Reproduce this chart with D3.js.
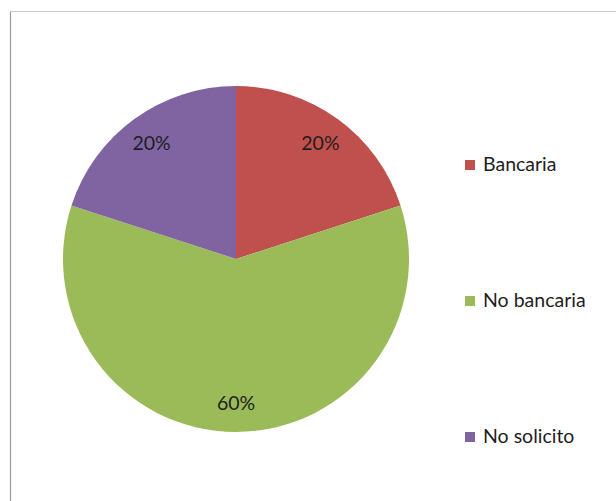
<!DOCTYPE html>
<html>
<head>
<meta charset="utf-8">
<script src="https://cdn.jsdelivr.net/npm/d3@7"></script>
<style>
  html, body { margin: 0; padding: 0; background: #fff; }
  svg { display: block; }
</style>
</head>
<body>
<svg id="chart" width="616" height="501"></svg>
<script>
const categories = ["Bancaria", "No bancaria", "No solicito"];
const values = [20, 60, 20];
const labels = ["20%", "60%", "20%"];
const colors = ["#C0504D", "#9BBB59", "#8064A2"];

const W = 616, H = 501;
const svg = d3.select("#chart");
const font = "Lato, 'Open Sans', sans-serif";

// chart frame (extends beyond the right/bottom edges)
svg.append("line").attr("x1", 10.5).attr("y1", 11.5).attr("x2", 620).attr("y2", 11.5)
  .attr("stroke", "#c8c8c8").attr("stroke-width", 1);
svg.append("line").attr("x1", 10.5).attr("y1", 11.5).attr("x2", 10.5).attr("y2", 510)
  .attr("stroke", "#9a9a9a").attr("stroke-width", 1.2);

const cx = 236, cy = 259, R = 173;
const pie = d3.pie().sort(null).value(d => d)(values);
const arc = d3.arc().innerRadius(0).outerRadius(R);
const labelArc = d3.arc().innerRadius(R * 0.83).outerRadius(R * 0.83);

const g = svg.append("g").attr("transform", `translate(${cx},${cy})`);
g.selectAll("path").data(pie).join("path")
  .attr("d", arc)
  .attr("fill", (d, i) => colors[i]);

g.selectAll("text").data(pie).join("text")
  .attr("transform", d => { const c = labelArc.centroid(d); return `translate(${c[0]},${c[1]})`; })
  .attr("text-anchor", "middle")
  .attr("dy", "0.36em")
  .attr("font-family", font)
  .attr("font-size", 19.5)
  .attr("fill", "#1e1e1e")
  .text((d, i) => labels[i]);

// legend
const legendY = d3.scalePoint().domain(categories).range([171, 443]);
const lg = svg.append("g");
const items = lg.selectAll("g").data(categories).join("g")
  .attr("transform", d => `translate(465,${legendY(d)})`);
items.append("rect").attr("x", 0).attr("y", -11).attr("width", 10).attr("height", 10)
  .attr("fill", (d, i) => colors[i]);
items.append("text").attr("x", 18).attr("y", 0)
  .attr("font-family", font).attr("font-size", 19.5).attr("fill", "#1e1e1e")
  .text(d => d);
</script>
</body>
</html>
